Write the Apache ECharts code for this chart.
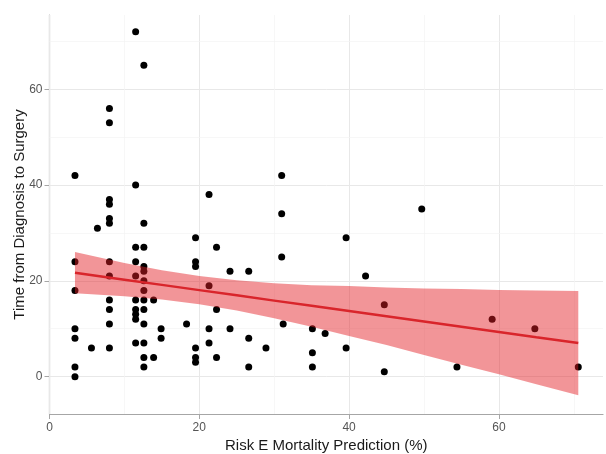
<!DOCTYPE html>
<html>
<head>
<meta charset="utf-8">
<script src="https://cdn.jsdelivr.net/npm/echarts@6/dist/echarts.min.js"></script>
<style>
  html, body { margin: 0; padding: 0; background: #fff; }
  #chart { width: 606px; height: 454px; }
</style>
</head>
<body>
<div id="chart"></div>
<script>
// 散点数据 (Risk E 预测值, 诊断到手术时间)
var riskX = [
  3.4, 3.4, 3.4, 3.4, 3.4, 3.4, 3.4,
  5.6, 6.4,
  8, 8, 8, 8, 8, 8, 8, 8, 8, 8, 8, 8,
  11.5, 11.5, 11.5, 11.5, 11.5, 11.5, 11.5, 11.5, 11.5, 11.5,
  12.6, 12.6, 12.6, 12.6, 12.6, 12.6, 12.6, 12.6, 12.6, 12.6, 12.6, 12.6, 12.6,
  13.9, 13.9, 14.9, 14.9, 18.3,
  19.5, 19.5, 19.5, 19.5, 19.5, 19.5,
  21.3, 21.3, 21.3, 21.3,
  22.3, 22.3, 22.3,
  24.1, 24.1,
  26.6, 26.6, 26.6,
  28.9,
  31, 31, 31, 31.2,
  35.1, 35.1, 35.1, 36.8,
  39.6, 39.6, 42.2, 44.7, 44.7,
  49.7, 54.4, 59.1, 64.8, 70.6
];
var timeY = [
  42, 24, 18, 10, 8, 2, 0,
  6, 31,
  56, 53, 37, 36, 33, 32, 24, 21, 16, 14, 11, 6,
  72, 40, 27, 24, 21, 16, 14, 13, 12, 7,
  65, 32, 27, 23, 22, 20, 18, 16, 14, 11, 7, 4, 2,
  16, 4, 10, 8, 11,
  29, 24, 23, 6, 4, 3,
  38, 19, 10, 7,
  27, 14, 4,
  22, 10,
  22, 8, 2,
  6,
  42, 34, 25, 11,
  10, 5, 2, 9,
  29, 6, 21, 15, 1,
  35, 2, 12, 10, 2
];

// 回归线及置信带
var fitX     = [3.4,  10,    15,   20,    25,   30,    35,   40,    45,   50,    55,   60,   65,   70.6];
var fitY     = [21.7, 20.25, 19.16, 18.06, 16.97, 15.87, 14.78, 13.68, 12.59, 11.49, 10.4, 9.3, 8.2, 7.0];
var bandLow  = [17.4, 16.8,  16.1, 15.1,  13.8, 12.2,  10.4, 8.5,   6.6,  4.5,   2.5,  0.5,  -1.6, -3.9];
var bandHigh = [26.0, 23.7,  22.2, 21.0,  20.1, 19.5,  19.1, 18.9,  18.6, 18.4,  18.3, 18.1, 18.0, 17.9];

// 刻度
var xTicks = [0, 20, 40, 60];
var yTicks = [0, 20, 40, 60];
var xMinor = [10, 30, 50, 70];
var yMinor = [10, 30, 50, 70];

var points = riskX.map(function (x, i) { return [x, timeY[i]]; });
var fitLine = fitX.map(function (x, i) { return [x, fitY[i]]; });

var gridLines = [];
xTicks.forEach(function (v) { gridLines.push({ xAxis: v, lineStyle: { color: '#e8e8e8', width: 1, type: 'solid' } }); });
yTicks.forEach(function (v) { gridLines.push({ yAxis: v, lineStyle: { color: '#e8e8e8', width: 1, type: 'solid' } }); });
xMinor.forEach(function (v) { gridLines.push({ xAxis: v, lineStyle: { color: '#f3f3f3', width: 0.7, type: 'solid' } }); });
yMinor.forEach(function (v) { gridLines.push({ yAxis: v, lineStyle: { color: '#f3f3f3', width: 0.7, type: 'solid' } }); });

var myChart = echarts.init(document.getElementById('chart'));
var option = {
  animation: false,
  grid: { left: 49.5, right: 3, top: 15, bottom: 40, outerBoundsMode: 'none' },
  xAxis: {
    type: 'value',
    min: 0,
    max: 73.9,
    name: 'Risk E Mortality Prediction (%)',
    nameLocation: 'middle',
    nameGap: 24,
    nameMoveOverlap: false,
    nameTextStyle: { fontFamily: 'Liberation Sans', fontSize: 15, color: '#1a1a1a' },
    axisLine: { show: true, onZero: false, lineStyle: { color: '#a6a6a6', width: 1.2 } },
    axisTick: { show: true, customValues: xTicks, length: 5, lineStyle: { color: '#a6a6a6' } },
    axisLabel: { customValues: xTicks, fontFamily: 'Liberation Sans', fontSize: 12, color: '#555', margin: 8 },
    splitLine: { show: false }
  },
  yAxis: {
    type: 'value',
    min: -7.8,
    max: 75.5,
    name: 'Time from Diagnosis to Surgery',
    nameLocation: 'middle',
    nameGap: 22,
    nameMoveOverlap: false,
    nameTextStyle: { fontFamily: 'Liberation Sans', fontSize: 15, color: '#1a1a1a' },
    axisLine: { show: true, onZero: false, lineStyle: { color: '#a6a6a6', width: 1.2 } },
    axisTick: { show: true, customValues: yTicks, length: 5, lineStyle: { color: '#a6a6a6' } },
    axisLabel: { customValues: yTicks, fontFamily: 'Liberation Sans', fontSize: 12, color: '#555', margin: 7 },
    splitLine: { show: false }
  },
  series: [
    {
      type: 'line',
      data: [[0, 0]],
      symbol: 'none',
      lineStyle: { opacity: 0 },
      silent: true,
      z: 1,
      markLine: { silent: true, z: 1, symbol: 'none', label: { show: false }, data: gridLines }
    },
    {
      type: 'scatter',
      data: points,
      symbolSize: 7,
      itemStyle: { color: '#000', opacity: 1 },
      z: 3
    },
    {
      type: 'custom',
      data: [[fitX[0], bandLow[0]]],
      silent: true,
      z: 4,
      renderItem: function (params, api) {
        var pts = [];
        for (var i = 0; i < fitX.length; i++) pts.push(api.coord([fitX[i], bandHigh[i]]));
        for (var j = fitX.length - 1; j >= 0; j--) pts.push(api.coord([fitX[j], bandLow[j]]));
        return {
          type: 'polygon',
          shape: { points: pts },
          style: { fill: 'rgba(228,30,36,0.47)', stroke: null }
        };
      }
    },
    {
      type: 'line',
      data: fitLine,
      symbol: 'none',
      lineStyle: { color: '#d9252b', width: 2.5 },
      z: 5
    }
  ]
};
myChart.setOption(option);
</script>
</body>
</html>
